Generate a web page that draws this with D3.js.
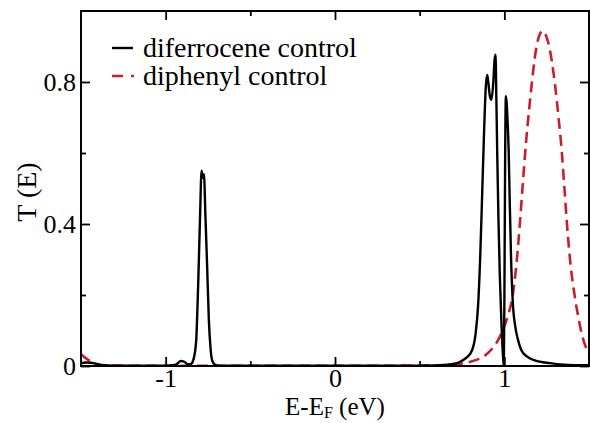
<!DOCTYPE html>
<html>
<head>
<meta charset="utf-8">
<script src="https://cdn.jsdelivr.net/npm/d3@7"></script>
<style>
	body { margin: 0; background: #fff; }
	svg text { font-family: "Liberation Serif", "Times New Roman", serif !important; fill: #000; }
</style>
</head>
<body>
<svg id="chart" width="590" height="423"></svg>
<script>
// transmission curves
var seriesNames = ["diferrocene control", "diphenyl control"];

var diferroceneE = [-1.5, -1.47, -1.44, -1.41, -1.38, -1.3, -1.0, -0.94, -0.91, -0.89, -0.87, -0.85,
	-0.835, -0.82, -0.808, -0.797, -0.788, -0.781, -0.774, -0.765, -0.755, -0.745, -0.735, -0.725,
	-0.71, -0.68, 0.0, 0.5, 0.65, 0.72, 0.75, 0.78, 0.81, 0.83, 0.845, 0.857, 0.867, 0.879, 0.891,
	0.899, 0.905, 0.915, 0.924, 0.935, 0.942, 0.948, 0.953, 0.958, 0.965, 0.973, 0.983, 0.992,
	0.997, 1.001, 1.005, 1.009, 1.014, 1.02, 1.026, 1.032, 1.04, 1.05, 1.065, 1.08, 1.1, 1.133,
	1.18, 1.27, 1.35, 1.5];
var diferroceneT = [0.008, 0.01, 0.009, 0.006, 0.002, 0.001, 0.001, 0.004, 0.014, 0.012, 0.005, 0.006,
	0.02, 0.07, 0.23, 0.42, 0.55, 0.53, 0.54, 0.42, 0.28, 0.13, 0.05, 0.015,
	0.004, 0.001, 0.0005, 0.001, 0.003, 0.008, 0.015, 0.025, 0.045, 0.09, 0.17, 0.3, 0.45, 0.64, 0.79,
	0.82, 0.8, 0.76, 0.75, 0.8, 0.86, 0.877, 0.75, 0.6, 0.42, 0.26, 0.12, 0.03,
	0.0, 0.25, 0.6, 0.76, 0.74, 0.68, 0.6, 0.46, 0.3, 0.18, 0.11, 0.075, 0.045, 0.027,
	0.016, 0.008, 0.004, 0.002];

var diphenylE = [-1.5, -1.48, -1.46, -1.44, -1.42, -1.4, -1.35, -1.25, -1.0, 0.0, 0.4, 0.6, 0.7, 0.75,
	0.8, 0.85, 0.9, 0.93, 0.96, 0.99, 1.02, 1.05, 1.07, 1.09, 1.11, 1.13, 1.15, 1.17, 1.19, 1.21,
	1.225, 1.24, 1.26, 1.28, 1.3, 1.32, 1.34, 1.355, 1.37, 1.39, 1.416, 1.44, 1.46, 1.48, 1.5];
var diphenylT = [0.033, 0.025, 0.018, 0.012, 0.008, 0.005, 0.002, 0.001, 0.0005, 0.0005, 0.001, 0.002,
	0.004, 0.007, 0.012, 0.02, 0.035, 0.05, 0.07, 0.1, 0.14, 0.2, 0.28, 0.39, 0.52, 0.64, 0.74, 0.83,
	0.9, 0.935, 0.944, 0.937, 0.91, 0.86, 0.79, 0.7, 0.6, 0.5, 0.4, 0.29, 0.196, 0.13, 0.085, 0.055, 0.04];

var xTicks = [-1, 0, 1];
var xMinor = [-0.5, 0.5];
var yTicks = [0, 0.4, 0.8];
var yMinor = [0.2, 0.6];

var svg = d3.select("svg#chart"),
	margin = {top: 11, right: 1, bottom: 57, left: 81},
	width = +svg.attr("width") - margin.left - margin.right,
	height = +svg.attr("height") - margin.top - margin.bottom;
var g = svg.append("g").attr("transform", "translate(" + margin.left + "," + margin.top + ")");

var x = d3.scaleLinear().domain([-1.5, 1.5]).range([0, width]);
var y = d3.scaleLinear().domain([0, 1]).range([height, 0]);

g.append("defs").append("clipPath")
	.attr("id", "clip")
  .append("rect")
	.attr("width", width)
	.attr("height", height);

var line = d3.line()
	.x(function(d) { return x(d[0]); })
	.y(function(d) { return y(d[1]); })
	.curve(d3.curveMonotoneX);

var red = "#c8202a";

g.append("g").attr("clip-path", "url(#clip)")
  .append("path")
	.datum(d3.zip(diphenylE, diphenylT))
	.attr("fill", "none")
	.attr("stroke", red)
	.attr("stroke-width", 2.6)
	.attr("stroke-dasharray", "11,6")
	.attr("d", line);

g.append("g").attr("clip-path", "url(#clip)")
  .append("path")
	.datum(d3.zip(diferroceneE, diferroceneT))
	.attr("fill", "none")
	.attr("stroke", "#000")
	.attr("stroke-width", 2.4)
	.attr("stroke-linejoin", "round")
	.attr("d", line);

// ticks pointing inward on all four sides
function tickAxis(axis, ticks, size) {
	return axis.tickValues(ticks).tickSize(-size).tickSizeOuter(0);
}

var xb = g.append("g").attr("transform", "translate(0," + height + ")")
	.call(tickAxis(d3.axisBottom(x), xTicks, 9).tickFormat(d3.format("d")).tickPadding(3));
g.append("g").attr("transform", "translate(0," + height + ")")
	.call(tickAxis(d3.axisBottom(x), xMinor, 5).tickFormat(""));
g.append("g").call(tickAxis(d3.axisTop(x), xTicks, 9).tickFormat(""));
g.append("g").call(tickAxis(d3.axisTop(x), xMinor, 5).tickFormat(""));

var yl = g.append("g")
	.call(tickAxis(d3.axisLeft(y), yTicks, 9).tickFormat(function(d) { return d === 0 ? "0" : d3.format(".1f")(d); }).tickPadding(5));
g.append("g").call(tickAxis(d3.axisLeft(y), yMinor, 5).tickFormat(""));
g.append("g").attr("transform", "translate(" + width + ",0)")
	.call(tickAxis(d3.axisRight(y), yTicks, 9).tickFormat(""));
g.append("g").attr("transform", "translate(" + width + ",0)")
	.call(tickAxis(d3.axisRight(y), yMinor, 5).tickFormat(""));

g.selectAll(".tick line").attr("stroke", "#000").attr("stroke-width", 1.8);
g.selectAll(".domain").remove();
g.selectAll("g").attr("font-family", null);
g.selectAll(".tick text").style("font-size", "26px");
xb.selectAll(".tick text").text(function(d) { return d < 0 ? "-" + Math.abs(d) : d; });

g.append("rect")
	.attr("width", width)
	.attr("height", height)
	.attr("fill", "none")
	.attr("stroke", "#000")
	.attr("stroke-width", 2);

// axis titles
var xt = svg.append("text")
	.attr("x", margin.left + x(0))
	.attr("y", 415)
	.attr("text-anchor", "middle")
	.style("font-size", "25px");
xt.append("tspan").text("E-E");
xt.append("tspan").attr("dy", 3).style("font-size", "16px").text("F");
xt.append("tspan").attr("dy", -3).text(" (eV)");

svg.append("text")
	.attr("transform", "translate(36,192) rotate(-90)")
	.attr("text-anchor", "middle")
	.style("font-size", "28px")
	.text("T (E)");

// legend
var legend = g.append("g").attr("transform", "translate(31,37)");
legend.append("line")
	.attr("x1", 0).attr("x2", 21).attr("y1", 0).attr("y2", 0)
	.attr("stroke", "#000").attr("stroke-width", 2.4);
legend.append("line")
	.attr("x1", 0).attr("x2", 23).attr("y1", 28).attr("y2", 28)
	.attr("stroke", red).attr("stroke-width", 2.6)
	.attr("stroke-dasharray", "11,8,3,20");
legend.selectAll("text.lab")
	.data(seriesNames)
  .enter().append("text")
	.attr("class", "lab")
	.attr("x", 31)
	.attr("y", function(d, i) { return i * 28 + 9; })
	.style("font-size", "28px")
	.text(function(d) { return d; });
</script>
</body>
</html>
